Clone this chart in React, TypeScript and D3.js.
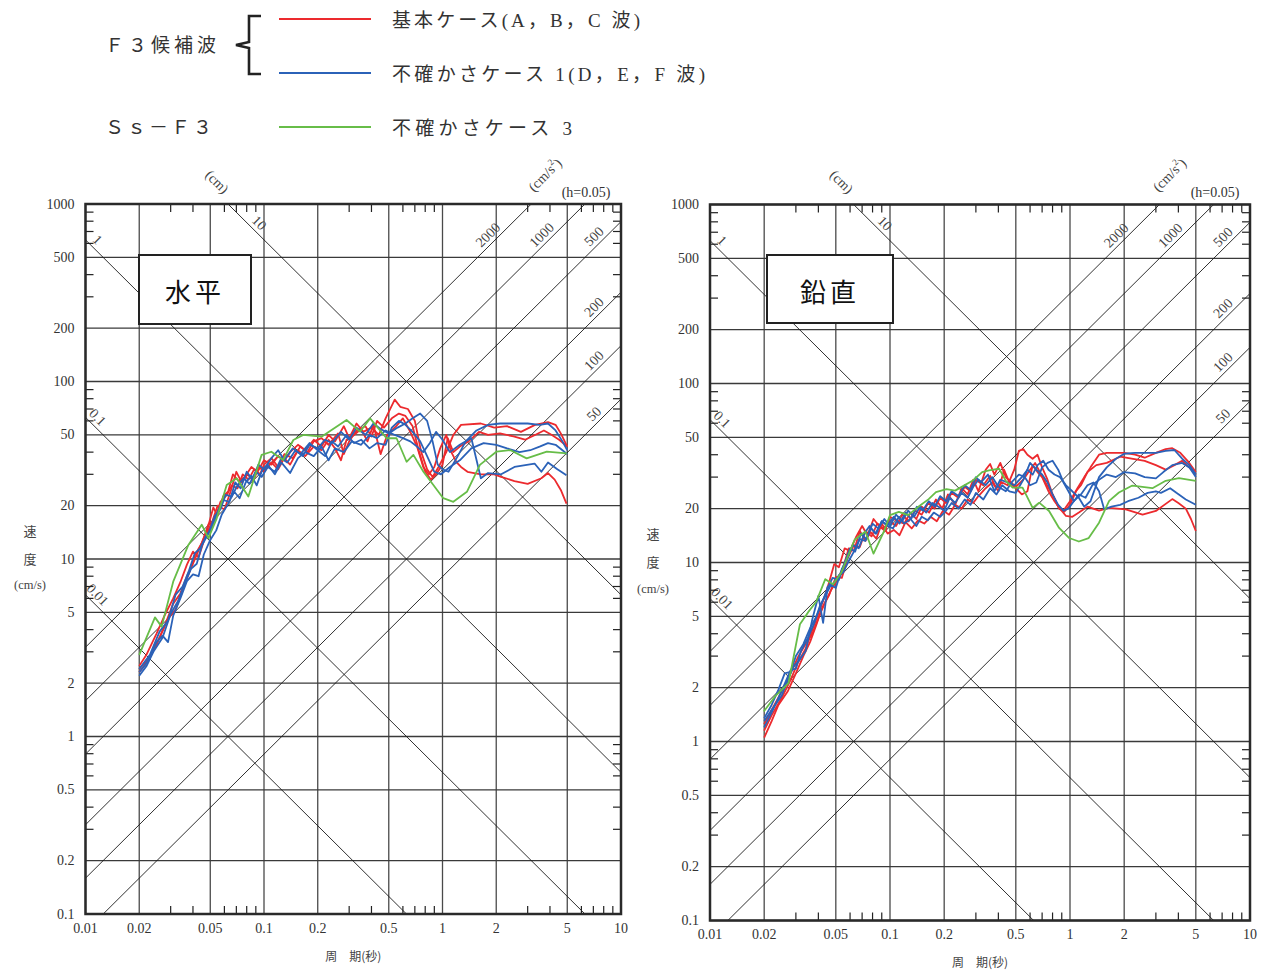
import React from "react";
import * as d3 from "d3";

type Pt = [number, number];

// ---------- axis / grid values ----------
const PERIOD_GRID = [0.01, 0.02, 0.05, 0.1, 0.2, 0.5, 1, 2, 5, 10];
const PERIOD_LABELS = ["0.01", "0.02", "0.05", "0.1", "0.2", "0.5", "1", "2", "5", "10"];
const VELOCITY_GRID = [0.1, 0.2, 0.5, 1, 2, 5, 10, 20, 50, 100, 200, 500, 1000];
const VELOCITY_LABELS = ["0.1", "0.2", "0.5", "1", "2", "5", "10", "20", "50", "100", "200", "500", "1000"];
const MINOR_MULTIPLES = [3, 4, 6, 7, 8, 9];
const PERIOD_DECADES = [0.01, 0.1, 1];
const VELOCITY_DECADES = [0.1, 1, 10, 100];
const DISPLACEMENT_LINES = [0.01, 0.1, 1, 10]; // cm
const DISPLACEMENT_LABELS = ["0.01", "0.1", "1", "10"];
const ACCELERATION_LINES = [50, 100, 200, 500, 1000, 2000]; // cm/s2
const ACCELERATION_LABELS = ["50", "100", "200", "500", "1000", "2000"];

// ---------- legend ----------
const LEGEND_ITEMS = [
  { label: "基本ケース(A，B，C 波)", color: "#ec2a2e" },
  { label: "不確かさケース 1(D，E，F 波)", color: "#2b62b8" },
  { label: "不確かさケース 3", color: "#67bd48" },
];
const LEGEND_GROUPS = ["Ｆ３候補波", "Ｓｓ－Ｆ３"];

// ---------- horizontal (水平) spectra : [period s, velocity cm/s] ----------
const H_RED_1: Pt[] = [[0.02,2.3],[0.022,2.6],[0.025,3.3],[0.028,4.3],[0.031,5.6],[0.034,6.4],[0.037,8.0],[0.04,9.4],[0.044,11.8],[0.048,14.5],[0.052,19.5],[0.055,17.5],[0.059,22.5],[0.063,24],[0.067,30],[0.072,27.5],[0.078,29],[0.085,33],[0.092,31],[0.1,36],[0.11,34],[0.12,38],[0.13,36],[0.14,40],[0.155,44],[0.17,41],[0.19,47],[0.21,43],[0.23,50],[0.25,46],[0.28,56],[0.3,48],[0.33,58],[0.36,52],[0.4,55],[0.44,50],[0.48,62],[0.54,79],[0.58,72],[0.64,70],[0.7,60],[0.76,40],[0.82,32],[0.88,29],[0.95,33],[1.05,40],[1.15,50],[1.27,57],[1.64,58],[1.95,55],[2.3,56],[2.75,52],[3.3,57],[3.9,59],[4.3,57],[4.6,51],[5.0,43]];
const H_RED_2: Pt[] = [[0.02,2.4],[0.023,2.8],[0.026,3.6],[0.029,4.6],[0.032,5.2],[0.035,6.8],[0.038,8.3],[0.041,10.5],[0.045,12.4],[0.049,15.8],[0.053,16.5],[0.057,21],[0.062,23],[0.066,26],[0.071,25],[0.076,30],[0.082,28],[0.088,32],[0.095,30],[0.1,34],[0.11,37],[0.12,33],[0.13,39],[0.145,37],[0.16,43],[0.175,40],[0.19,46],[0.21,48],[0.23,44],[0.26,51],[0.28,39],[0.3,46],[0.33,53],[0.37,56],[0.4,49],[0.43,60],[0.47,55],[0.52,62],[0.57,66],[0.62,64],[0.68,56],[0.74,40],[0.8,31],[0.86,28],[0.92,30],[1.0,34],[1.07,48],[1.15,40],[1.25,43],[1.4,46],[1.6,52],[1.8,50],[2.1,51],[2.5,49],[2.9,47],[3.3,50],[3.7,53],[4.1,50],[4.5,47],[5.0,43]];
const H_RED_3: Pt[] = [[0.02,2.5],[0.022,2.9],[0.025,3.8],[0.028,4.9],[0.031,6.0],[0.034,7.4],[0.037,9.3],[0.04,11],[0.043,10.2],[0.047,13.5],[0.051,16],[0.055,20],[0.06,19],[0.065,24],[0.07,31],[0.075,27],[0.081,30],[0.087,27.5],[0.094,33],[0.1,31],[0.11,35],[0.12,32],[0.13,37],[0.14,34],[0.155,41],[0.17,38],[0.19,43],[0.21,41],[0.23,47],[0.25,42],[0.27,36],[0.29,47],[0.32,50],[0.35,54],[0.38,46],[0.41,57],[0.45,39],[0.49,50],[0.55,56],[0.6,62],[0.66,52],[0.72,43],[0.78,33],[0.84,30],[0.9,33],[0.97,42],[1.05,50],[1.12,40],[1.2,35],[1.27,33],[1.38,31],[1.64,30],[1.95,30],[2.13,29],[2.53,27.5],[3.0,26.5],[3.58,28.5],[3.9,30.5],[4.25,28],[4.6,24.5],[4.95,20.5]];
const H_BLUE_1: Pt[] = [[0.02,2.2],[0.022,2.5],[0.024,3.0],[0.027,3.6],[0.03,4.9],[0.033,5.8],[0.036,7.3],[0.039,8.8],[0.042,9.4],[0.045,12.0],[0.049,14.0],[0.053,17.5],[0.057,19],[0.061,23],[0.066,22.5],[0.071,26],[0.077,28.5],[0.083,26.5],[0.09,31],[0.097,29],[0.105,33],[0.115,31],[0.125,37],[0.135,35],[0.15,41],[0.165,38],[0.18,44],[0.2,42],[0.22,47],[0.24,45],[0.27,52],[0.3,47],[0.33,55],[0.37,50],[0.41,58],[0.45,54],[0.5,51],[0.56,55],[0.62,58],[0.68,62],[0.75,66],[0.82,60],[0.88,46],[0.94,34],[1.0,32],[1.08,31],[1.2,37],[1.35,46],[1.55,53],[1.8,57],[2.1,58],[2.5,58],[3.0,58],[3.5,57],[3.9,58],[4.3,53],[4.7,46],[5.0,41]];
const H_BLUE_2: Pt[] = [[0.02,2.3],[0.022,2.6],[0.025,3.4],[0.027,3.7],[0.029,3.4],[0.031,4.8],[0.034,6.0],[0.037,7.5],[0.04,8.2],[0.043,8.0],[0.046,10.6],[0.05,12.8],[0.054,14.5],[0.058,17.8],[0.063,20.5],[0.068,24],[0.073,22],[0.079,27],[0.085,29.5],[0.091,26],[0.098,32],[0.105,34],[0.115,30],[0.125,35],[0.14,30.5],[0.155,37],[0.17,40],[0.19,38],[0.21,43],[0.23,36],[0.25,42],[0.28,40],[0.31,46],[0.35,44],[0.39,50],[0.43,48],[0.48,53],[0.54,50],[0.6,48],[0.66,46],[0.72,43],[0.78,40],[0.85,45],[0.92,52],[1.0,47],[1.1,40],[1.25,44],[1.45,48],[1.64,28.5],[1.8,30.5],[2.13,30],[2.53,33],[3.28,34.5],[3.58,31],[3.9,35],[4.4,32],[4.95,29.6]];
const H_BLUE_3: Pt[] = [[0.02,2.4],[0.023,2.9],[0.026,3.9],[0.029,4.5],[0.032,6.3],[0.035,7.0],[0.038,8.6],[0.041,10.8],[0.044,11.5],[0.047,13.3],[0.051,15.0],[0.055,18.5],[0.059,21.5],[0.064,21],[0.069,27],[0.074,25],[0.08,31],[0.086,28],[0.093,34],[0.1,32],[0.11,37],[0.12,41],[0.13,36],[0.145,42],[0.16,39],[0.18,45],[0.2,41],[0.22,38],[0.24,46],[0.26,43],[0.29,50],[0.32,45],[0.35,47],[0.39,42],[0.43,45],[0.48,44],[0.52,55],[0.57,60],[0.62,57],[0.68,52],[0.75,46],[0.82,38],[0.9,31],[0.98,30],[1.1,33],[1.25,36],[1.45,42],[1.7,45],[2.0,44],[2.3,42],[2.7,40],[3.1,41],[3.5,43],[3.9,45],[4.3,44],[4.7,41],[5.0,39]];
const H_GREEN: Pt[] = [[0.02,2.88],[0.0245,4.69],[0.0267,4.16],[0.031,7.45],[0.0377,12.0],[0.0448,15.6],[0.0488,13.1],[0.0543,16.9],[0.0618,26.1],[0.0703,28.5],[0.0817,22.5],[0.097,38.6],[0.11,40.2],[0.128,36.1],[0.146,46.8],[0.166,50],[0.21,48.9],[0.29,60.7],[0.345,52.2],[0.393,62],[0.486,47.9],[0.553,47.9],[0.629,35.3],[0.687,38.6],[0.782,31],[1.01,22],[1.15,21],[1.37,23.9],[1.62,33.9],[2.01,40.3],[2.39,41.1],[2.96,36.9],[3.84,40.3],[4.97,39.4]];

// ---------- vertical (鉛直) spectra ----------
const V_RED_1: Pt[] = [[0.02,1.05],[0.022,1.3],[0.024,1.6],[0.027,1.9],[0.03,2.4],[0.033,3.0],[0.036,3.6],[0.039,4.5],[0.042,5.6],[0.046,6.6],[0.05,8.3],[0.054,8.2],[0.058,10.5],[0.063,12.5],[0.068,12.2],[0.073,15.0],[0.079,14],[0.085,16.5],[0.092,15.5],[0.1,17],[0.108,16],[0.117,18.5],[0.127,17],[0.138,19.5],[0.15,18.5],[0.163,21.5],[0.177,20],[0.19,23],[0.205,21.5],[0.22,24.5],[0.24,23],[0.26,26.5],[0.28,25],[0.3,29],[0.33,27],[0.36,30.5],[0.39,26],[0.42,28],[0.45,27],[0.49,33],[0.52,42],[0.55,43],[0.58,40],[0.62,38],[0.66,40],[0.7,34],[0.75,29],[0.8,24],[0.86,20.5],[0.92,19.5],[1.0,22],[1.1,26],[1.2,30],[1.3,34],[1.45,40],[1.6,41],[1.8,41],[2.0,41],[2.3,40],[2.6,38.5],[3.0,41],[3.4,43],[3.7,43.5],[4.1,41],[4.5,37],[5.0,32]];
const V_RED_2: Pt[] = [[0.02,1.15],[0.022,1.4],[0.025,1.75],[0.028,2.2],[0.031,2.8],[0.034,3.3],[0.037,4.2],[0.04,5.2],[0.043,6.3],[0.046,7.8],[0.049,9.8],[0.052,9.4],[0.056,12.0],[0.06,11.6],[0.065,14.0],[0.07,16.0],[0.075,14.2],[0.081,17.5],[0.087,16],[0.094,15],[0.1,18],[0.11,17],[0.12,16.5],[0.13,19],[0.14,17.5],[0.15,20.5],[0.165,19],[0.18,22.5],[0.195,20],[0.21,24],[0.23,21],[0.25,26],[0.27,24],[0.29,29],[0.31,25],[0.34,33],[0.36,35.5],[0.38,31],[0.41,36],[0.44,30],[0.47,28],[0.5,26.5],[0.55,29],[0.6,33],[0.64,36],[0.68,32],[0.73,28],[0.8,24],[0.87,20],[0.93,19.2],[1.0,21],[1.08,25],[1.15,27],[1.25,32],[1.4,35],[1.6,36],[1.9,39],[2.2,38],[2.6,37],[3.0,35],[3.4,33],[3.8,35],[4.2,37],[4.6,34],[5.0,31]];
const V_RED_3: Pt[] = [[0.02,1.25],[0.022,1.5],[0.025,1.9],[0.028,2.4],[0.031,3.0],[0.034,3.5],[0.037,4.0],[0.04,4.9],[0.043,5.8],[0.047,7.0],[0.051,8.0],[0.055,9.4],[0.059,12.0],[0.063,11.6],[0.068,15.0],[0.073,13.2],[0.078,14.8],[0.084,13.6],[0.09,16.5],[0.097,14.5],[0.105,15.2],[0.113,14.2],[0.122,16.8],[0.132,15.5],[0.143,17.2],[0.155,16.5],[0.168,18],[0.182,17],[0.197,19.5],[0.213,18.5],[0.23,21],[0.25,20],[0.27,22.5],[0.29,21.5],[0.31,23.5],[0.34,26],[0.37,28],[0.4,25],[0.43,33],[0.46,28],[0.5,26],[0.54,24],[0.58,25],[0.62,35],[0.66,32],[0.7,30],[0.76,25],[0.82,22],[0.88,20],[0.95,18.2],[1.03,18],[1.12,19],[1.25,20.5],[1.45,19.5],[1.65,20.2],[2.04,19.8],[2.53,18.5],[3.0,19.4],[3.7,22.6],[4.0,21.5],[4.4,20],[4.7,17.5],[5.0,15]];
const V_BLUE_1: Pt[] = [[0.02,1.2],[0.022,1.45],[0.024,1.75],[0.026,2.1],[0.028,2.5],[0.03,2.55],[0.032,3.2],[0.035,3.8],[0.038,4.6],[0.041,5.8],[0.044,6.6],[0.047,7.5],[0.05,7.2],[0.054,9.2],[0.058,10.5],[0.062,12.5],[0.067,12],[0.072,14.5],[0.077,16],[0.083,14.5],[0.09,17],[0.097,16.2],[0.105,18],[0.113,16.5],[0.122,19],[0.131,17.5],[0.141,20.5],[0.152,19.5],[0.164,22],[0.177,20.5],[0.19,23.5],[0.205,22],[0.22,25],[0.24,23.5],[0.26,27],[0.28,25.5],[0.3,30],[0.32,28],[0.35,31],[0.38,25],[0.41,29],[0.45,28],[0.49,27],[0.54,30],[0.58,33],[0.62,31],[0.66,35],[0.71,37],[0.76,33],[0.82,31],[0.88,30],[0.95,27],[1.03,25],[1.12,23],[1.2,20.5],[1.3,22],[1.45,30],[1.6,34],[1.8,38],[2.0,40.5],[2.3,41],[2.6,41],[3.0,41],[3.4,42],[3.8,42.5],[4.2,38],[4.6,35],[5.0,31]];
const V_BLUE_2: Pt[] = [[0.02,1.35],[0.022,1.6],[0.024,1.95],[0.026,2.4],[0.028,2.45],[0.03,3.0],[0.033,3.5],[0.036,4.3],[0.039,5.0],[0.042,6.0],[0.045,7.2],[0.048,8.2],[0.052,8.0],[0.056,10.0],[0.06,12.0],[0.064,11.5],[0.069,14.5],[0.074,13.5],[0.08,16.5],[0.086,15.5],[0.093,17.5],[0.1,16],[0.108,18.5],[0.117,17],[0.126,19.5],[0.136,18],[0.147,20.5],[0.159,19],[0.172,21.5],[0.186,20.5],[0.2,19.5],[0.215,23],[0.23,21.5],[0.25,24.5],[0.27,23],[0.29,26.5],[0.31,29],[0.34,27],[0.37,30],[0.4,26.5],[0.44,25],[0.48,28.5],[0.52,31],[0.56,30],[0.6,27],[0.65,28],[0.7,34],[0.75,36],[0.8,37],[0.86,33],[0.92,28],[0.98,25],[1.05,22],[1.12,24],[1.22,23],[1.33,27],[1.45,29],[1.6,31],[1.8,30],[2.0,32],[2.3,31.5],[2.6,30],[3.0,29.5],[3.3,32],[3.7,35],[4.2,36],[4.6,34],[5.0,30]];
const V_BLUE_3: Pt[] = [[0.02,1.3],[0.022,1.5],[0.025,1.8],[0.027,2.2],[0.029,2.6],[0.031,2.8],[0.034,3.2],[0.037,4.8],[0.04,6.5],[0.0425,4.6],[0.045,7.3],[0.049,7.7],[0.052,8.5],[0.055,8.8],[0.059,10.2],[0.063,11.5],[0.068,13.5],[0.073,13.2],[0.078,15.5],[0.084,14.5],[0.09,17],[0.097,16],[0.104,15.5],[0.112,18],[0.12,16.5],[0.13,17.5],[0.14,16],[0.15,18],[0.162,17.2],[0.175,19],[0.19,18],[0.205,19.5],[0.22,21.5],[0.24,20],[0.26,22.5],[0.28,21],[0.3,24.5],[0.33,22.5],[0.36,26],[0.39,24],[0.42,27],[0.46,25],[0.5,24.5],[0.55,29],[0.6,36],[0.65,33],[0.7,31],[0.75,28],[0.8,24],[0.86,21],[0.92,19.5],[0.98,20],[1.05,22],[1.15,24],[1.25,27],[1.35,28],[1.45,25],[1.55,19.8],[1.7,20.5],[1.9,21],[2.1,22],[2.4,23],[2.7,24.5],[3.0,25],[3.2,24.5],[3.6,26],[3.9,24.5],[4.4,22.5],[5.0,21]];
const V_GREEN: Pt[] = [[0.0199,1.47],[0.0229,1.78],[0.0273,2.12],[0.0316,4.52],[0.0351,5.28],[0.039,6.06],[0.0437,8.07],[0.0482,7.55],[0.0534,8.7],[0.0636,13.4],[0.073,14.9],[0.081,11.2],[0.0925,14.9],[0.1,18.4],[0.112,19.2],[0.126,18.4],[0.145,20.6],[0.164,22.6],[0.18,24.7],[0.206,25.7],[0.23,25.2],[0.256,26.8],[0.287,28.6],[0.325,32],[0.355,32.7],[0.404,33.4],[0.44,28.6],[0.48,26.2],[0.545,26.2],[0.62,20.2],[0.674,21.6],[0.765,19.4],[0.87,15.6],[0.99,13.7],[1.12,13.1],[1.27,13.7],[1.45,16.7],[1.65,22.1],[1.87,24.6],[2.22,26.9],[2.87,26.0],[3.4,28.6],[4.03,29.6],[4.99,28.6]];

const RED = "#ec2a2e";
const BLUE = "#2b62b8";
const GREEN = "#67bd48";

const PANELS = [
  {
    id: "h", x0: 85.5, x1: 621, yTop: 204, yBot: 914, title: "水平",
    box: { x: 139, y: 255, w: 112, h: 69 }, yTitleX: 30, yTitleY: [530, 558, 585],
    series: [
      { data: H_RED_1, color: RED }, { data: H_RED_2, color: RED }, { data: H_RED_3, color: RED },
      { data: H_BLUE_1, color: BLUE }, { data: H_BLUE_2, color: BLUE }, { data: H_BLUE_3, color: BLUE },
      { data: H_GREEN, color: GREEN },
    ],
  },
  {
    id: "v", x0: 710, x1: 1250, yTop: 204.5, yBot: 920.5, title: "鉛直",
    box: { x: 767, y: 255, w: 126, h: 68 }, yTitleX: 653, yTitleY: [533, 561, 589],
    series: [
      { data: V_RED_1, color: RED }, { data: V_RED_2, color: RED }, { data: V_RED_3, color: RED },
      { data: V_BLUE_1, color: BLUE }, { data: V_BLUE_2, color: BLUE }, { data: V_BLUE_3, color: BLUE },
      { data: V_GREEN, color: GREEN },
    ],
  },
];

const SERIF = '"Liberation Serif", "DejaVu Serif", "Noto Sans CJK JP", serif';
const CJK = '"Noto Sans CJK JP", "Noto Sans CJK SC", sans-serif';
const TWO_PI = 2 * Math.PI;

function Panel({ p }: { p: any }) {
  const xs = d3.scaleLog().domain([0.01, 10]).range([p.x0, p.x1]);
  const ys = d3.scaleLog().domain([0.1, 1000]).range([p.yBot, p.yTop]);
  const clipId = `clip-${p.id}`;
  const line = d3.line<Pt>().x((d) => xs(d[0])).y((d) => ys(d[1]));

  const minorX: number[] = [];
  PERIOD_DECADES.forEach((d) => MINOR_MULTIPLES.forEach((m) => minorX.push(m * d)));
  const minorY: number[] = [];
  VELOCITY_DECADES.forEach((d) => MINOR_MULTIPLES.forEach((m) => minorY.push(m * d)));
  const tl = 8;

  const dispLabels = DISPLACEMENT_LINES.map((sd, i) => {
    let x: number, y: number;
    if (sd >= 10) {
      y = p.yTop + 25;
      const sv = ys.invert(y);
      x = xs((TWO_PI * sd) / sv);
    } else {
      x = p.x0 + 6;
      y = ys((TWO_PI * sd) / xs.invert(x));
    }
    return { x: x + 6, y: y - 6, text: DISPLACEMENT_LABELS[i] };
  });
  const accLabels = ACCELERATION_LINES.map((sa, i) => {
    let x: number, y: number;
    y = p.yTop + 37;
    x = xs((TWO_PI * ys.invert(y)) / sa);
    if (x > p.x1 - 22) {
      x = p.x1 - 21;
      y = ys((sa * xs.invert(x)) / TWO_PI);
    }
    return { x: x - 6, y: y - 6, text: ACCELERATION_LABELS[i] };
  });

  return (
    <g>
      <defs>
        <clipPath id={clipId}>
          <rect x={p.x0} y={p.yTop} width={p.x1 - p.x0} height={p.yBot - p.yTop} />
        </clipPath>
      </defs>
      <rect x={p.x0} y={p.yTop} width={p.x1 - p.x0} height={p.yBot - p.yTop} fill="#fff" />
      {PERIOD_GRID.map((t) => (
        <line key={"vx" + t} x1={xs(t)} x2={xs(t)} y1={p.yTop} y2={p.yBot} stroke="#4a4a4a" strokeWidth={1.3} />
      ))}
      {VELOCITY_GRID.map((v) => (
        <line key={"hy" + v} x1={p.x0} x2={p.x1} y1={ys(v)} y2={ys(v)} stroke="#3a3a3a" strokeWidth={1.3} />
      ))}
      <g clipPath={`url(#${clipId})`}>
        {DISPLACEMENT_LINES.map((sd) => (
          <line key={"sd" + sd} x1={xs(0.001)} y1={ys((TWO_PI * sd) / 0.001)} x2={xs(100)} y2={ys((TWO_PI * sd) / 100)} stroke="#1a1a1a" strokeWidth={0.9} />
        ))}
        {ACCELERATION_LINES.map((sa) => (
          <line key={"sa" + sa} x1={xs(0.001)} y1={ys((sa * 0.001) / TWO_PI)} x2={xs(100)} y2={ys((sa * 100) / TWO_PI)} stroke="#1a1a1a" strokeWidth={0.9} />
        ))}
      </g>
      {dispLabels.map((l) => (
        <text key={"dl" + l.text} x={l.x} y={l.y} transform={`rotate(45 ${l.x} ${l.y})`} textAnchor="middle" dominantBaseline="central" fontFamily={SERIF} fontSize={14} fill="#444">{l.text}</text>
      ))}
      {accLabels.map((l) => (
        <text key={"al" + l.text} x={l.x} y={l.y} transform={`rotate(-45 ${l.x} ${l.y})`} textAnchor="middle" dominantBaseline="central" fontFamily={SERIF} fontSize={14} fill="#444">{l.text}</text>
      ))}
      <rect x={p.box.x} y={p.box.y} width={p.box.w} height={p.box.h} fill="#fff" stroke="#222" strokeWidth={2} />
      <text x={p.box.x + p.box.w / 2} y={p.box.y + p.box.h / 2 + 1} textAnchor="middle" dominantBaseline="central" fontFamily={CJK} fontSize={26} letterSpacing={4} fill="#111">{p.title}</text>
      <g clipPath={`url(#${clipId})`} fill="none" strokeWidth={1.8} strokeLinejoin="round">
        {p.series.map((s: any, i: number) => (
          <path key={i} d={line(s.data) || ""} stroke={s.color} />
        ))}
      </g>
      {minorX.map((t) => (
        <g key={"mx" + t}>
          <line x1={xs(t)} x2={xs(t)} y1={p.yBot} y2={p.yBot - tl} stroke="#222" strokeWidth={1.2} />
          <line x1={xs(t)} x2={xs(t)} y1={p.yTop} y2={p.yTop + tl} stroke="#222" strokeWidth={1.2} />
        </g>
      ))}
      {minorY.map((v) => (
        <g key={"my" + v}>
          <line x1={p.x0} x2={p.x0 + tl} y1={ys(v)} y2={ys(v)} stroke="#222" strokeWidth={1.2} />
          <line x1={p.x1} x2={p.x1 - tl} y1={ys(v)} y2={ys(v)} stroke="#222" strokeWidth={1.2} />
        </g>
      ))}
      <rect x={p.x0} y={p.yTop} width={p.x1 - p.x0} height={p.yBot - p.yTop} fill="none" stroke="#2a2a2a" strokeWidth={2.5} />
      {PERIOD_GRID.map((t, i) => (
        <text key={"xl" + t} x={xs(t)} y={p.yBot + 14} textAnchor="middle" dominantBaseline="central" fontFamily={SERIF} fontSize={14} fill="#333">{PERIOD_LABELS[i]}</text>
      ))}
      {VELOCITY_GRID.map((v, i) => (
        <text key={"yl" + v} x={p.x0 - 11} y={ys(v)} textAnchor="end" dominantBaseline="central" fontFamily={SERIF} fontSize={14} fill="#333">{VELOCITY_LABELS[i]}</text>
      ))}
      <text x={(p.x0 + p.x1) / 2} y={p.yBot + 41} textAnchor="middle" dominantBaseline="central" fontFamily={CJK} fontSize={12} fill="#444">周　期(秒)</text>
      <text x={p.yTitleX} y={p.yTitleY[0]} textAnchor="middle" dominantBaseline="central" fontFamily={CJK} fontSize={13} fill="#444">速</text>
      <text x={p.yTitleX} y={p.yTitleY[1]} textAnchor="middle" dominantBaseline="central" fontFamily={CJK} fontSize={13} fill="#444">度</text>
      <text x={p.yTitleX} y={p.yTitleY[2]} textAnchor="middle" dominantBaseline="central" fontFamily={SERIF} fontSize={12.5} fill="#444">(cm/s)</text>
      <text x={p.x0 + 131.5} y={182} transform={`rotate(45 ${p.x0 + 131.5} 182)`} textAnchor="middle" dominantBaseline="central" fontFamily={SERIF} fontSize={14} fill="#444">(cm)</text>
      <text x={p.x0 + 459.5} y={175} transform={`rotate(-45 ${p.x0 + 459.5} 175)`} textAnchor="middle" dominantBaseline="central" fontFamily={SERIF} fontSize={14} fill="#444">
        (cm/s<tspan fontSize={9} dy={-5}>2</tspan><tspan dy={5}>)</tspan>
      </text>
      <text x={p.x1 - 35} y={192} textAnchor="middle" dominantBaseline="central" fontFamily={SERIF} fontSize={14} fill="#333">(h=0.05)</text>
    </g>
  );
}

function Legend() {
  const ys = [19, 73, 127];
  const widths = [248, 313, 180];
  return (
    <g>
      <text x={105} y={45} dominantBaseline="central" fontFamily={SERIF} fontSize={19} textLength={111} lengthAdjust="spacing" fill="#333">{LEGEND_GROUPS[0]}</text>
      <text x={105} y={127} dominantBaseline="central" fontFamily={SERIF} fontSize={19} textLength={107} lengthAdjust="spacing" fill="#333">{LEGEND_GROUPS[1]}</text>
      <path d="M261,16 L249,16 L249,42 L236,45 L249,48 L249,74 L261,74" fill="none" stroke="#222" strokeWidth={2.6} strokeLinejoin="miter" />
      {LEGEND_ITEMS.map((it, i) => (
        <g key={it.label}>
          <line x1={279} x2={371} y1={ys[i]} y2={ys[i]} stroke={it.color} strokeWidth={2} />
          <text x={392} y={ys[i] + 1} dominantBaseline="central" fontFamily={SERIF} fontSize={19} textLength={widths[i]} lengthAdjust="spacing" fill="#333">{it.label}</text>
        </g>
      ))}
    </g>
  );
}

export default function App() {
  return (
    <svg width={1269} height={976} style={{ position: "absolute", left: 0, top: 0, background: "#fff" }}>
      <rect x={0} y={0} width={1269} height={976} fill="#fff" />
      <Legend />
      {PANELS.map((p) => (
        <Panel key={p.id} p={p} />
      ))}
    </svg>
  );
}
